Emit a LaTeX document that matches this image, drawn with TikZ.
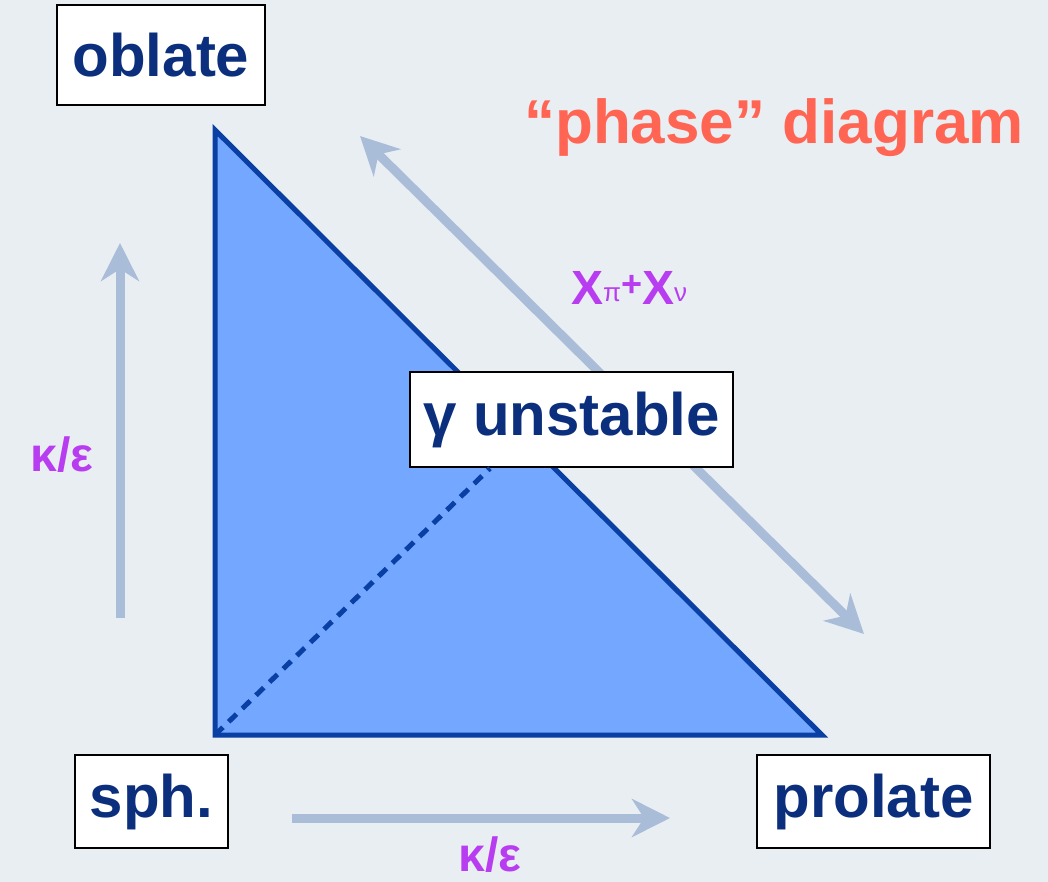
\documentclass[tikz,border=0pt]{standalone}
\usepackage{fontspec}
\setmainfont{Liberation Sans}
\usetikzlibrary{arrows.meta}
\definecolor{bgc}{HTML}{E9EEF3}
\definecolor{trifill}{HTML}{74A7FF}
\definecolor{triline}{HTML}{0A3FA3}
\definecolor{txtblue}{HTML}{0B2F7C}
\definecolor{arrc}{HTML}{A9BDD9}
\definecolor{purp}{HTML}{B83DF0}
\definecolor{coral}{HTML}{FF6552}
\tikzset{
  labelbox/.style={draw=black, line width=2.5pt, fill=white, text=txtblue,
    font=\fontsize{60}{60}\selectfont\bfseries, inner sep=0pt},
  bigarrow/.style={draw=arrc, line width=9pt,
    -{Stealth[length=38pt, width=38pt, inset=12pt]}},
  dblarrow/.style={draw=arrc, line width=9pt,
    {Stealth[length=38pt, width=38pt, inset=12pt]}-{Stealth[length=38pt, width=38pt, inset=12pt]}},
  purptext/.style={text=purp, font=\fontsize{48}{48}\selectfont\bfseries, inner sep=0pt},
}
\begin{document}
\begin{tikzpicture}[x=1pt, y=-1pt]
\fill[bgc] (0,0) rectangle (1048,882);
\useasboundingbox (0,0) rectangle (1048,882);
% triangle
\coordinate (O) at (215,735);
\coordinate (T) at (215,130);
\coordinate (R) at (822,735);
\filldraw[fill=trifill, draw=triline, line width=5pt, line join=miter] (T) -- (O) -- (R) -- cycle;
% arrows
\coordinate (va) at (120,618);
\coordinate (vb) at (120,243);
\draw[bigarrow] (va) -- (vb);
\coordinate (ha) at (292,818);
\coordinate (hb) at (670,818);
\draw[bigarrow] (ha) -- (hb);
\coordinate (da) at (360,136);
\coordinate (db) at (864,634);
\draw[dblarrow] (da) -- (db);
% boxes
\node[labelbox, minimum width=208pt, minimum height=100pt] (oblate) at (161,55) {oblate};
\node[labelbox, minimum width=153pt, minimum height=93pt] (sph) at (151.5,801.5) {sph.};
\node[labelbox, minimum width=233pt, minimum height=93pt] (prolate) at (873.5,801.5) {prolate};
\node[labelbox, minimum width=323pt, minimum height=95pt] (gamma) at (571.5,419.5) {γ unstable};
% dashed line
\draw[triline, line width=5pt, dash pattern=on 11pt off 8pt] (O) -- (gamma.south west -| 490,0);
% labels
\node[purptext] (kv) at (62,455) {κ/ε};
\node[purptext] (kh) at (490,855) {κ/ε};
\node[purptext, anchor=base west] (chi) at (571,305) {Χ\raisebox{3pt}{\fontsize{26}{26}\selectfont\mdseries π}\raisebox{8pt}{\fontsize{36}{36}\selectfont +}Χ\raisebox{3pt}{\fontsize{26}{26}\selectfont\mdseries ν}};
\node[text=coral, font=\fontsize{62}{62}\selectfont\bfseries, inner sep=0pt] (title) at (774,128) {“phase” diagram};
\end{tikzpicture}
\end{document}
